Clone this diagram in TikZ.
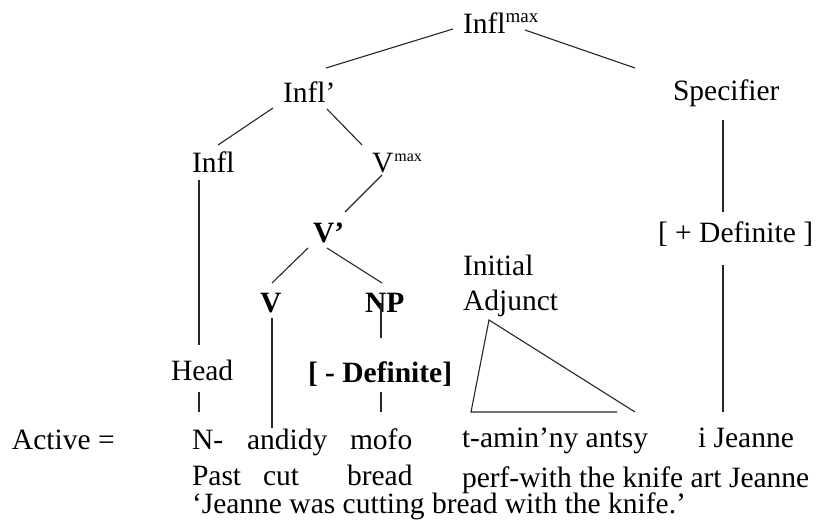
\documentclass[tikz,border=0pt]{standalone}
\usepackage{fontspec}
\setmainfont{Liberation Serif}
\newcommand{\supmax}[1]{\raisebox{11pt}{\fontsize{#1}{#1}\selectfont max}}
\begin{document}
\begin{tikzpicture}[x=1pt,y=-1pt,
  lbl/.style={anchor=base west,inner sep=0pt,outer sep=0pt,font=\fontsize{29.5}{34}\selectfont},
  blbl/.style={lbl,font=\fontsize{29.5}{34}\selectfont\bfseries},
  branch/.style={line width=1.1pt,black!85}]
\useasboundingbox (0,0) rectangle (817,525);
% nodes
\node[lbl] (imax) at (463,33) {Infl\supmax{19}};
\node[lbl] (ibar) at (283,102) {Infl’};
\node[lbl] (spec) at (673,100) {Specifier};
\node[lbl] (infl) at (192,172) {Infl};
\node[lbl] (vmax) at (372,172) {V\kern1pt\supmax{16}};
\node[lbl] (pdef) at (658,242) {[ + Definite ]};
\node[blbl] (vbar) at (313,242) {V’};
\node[blbl] (v) at (260,312) {V};
\node[blbl] (np) at (365,312) {NP};
\node[lbl] (init) at (463,275) {Initial};
\node[lbl] (adj) at (463,310) {Adjunct};
\node[lbl] (head) at (171,380) {Head};
\node[blbl] (mdef) at (308,382) {[ - Definite]};
\node[lbl] (active) at (12,449) {Active =};
\node[lbl] (n) at (192,449) {N-};
\node[lbl] (andidy) at (247,449) {andidy};
\node[lbl] (mofo) at (350,449) {mofo};
\node[lbl] (tamin) at (462,447) {t-amin’ny antsy};
\node[lbl] (ijeanne) at (698,447) {i Jeanne};
\node[lbl] (past) at (192,485) {Past};
\node[lbl] (cut) at (263,485) {cut};
\node[lbl] (bread) at (347,485) {bread};
\node[lbl] (perf) at (462,487) {perf-with the knife art Jeanne};
\node[lbl] (gloss) at (192,513) {‘Jeanne was cutting bread with the knife.’};
% branches
\draw[branch] ([shift={(-10,-4)}]imax.base west) -- ([shift={(43,-34)}]ibar.base west);
\draw[branch] ([shift={(62,-3)}]imax.base west) -- ([shift={(-38,-32)}]spec.base west);
\draw[branch] ([shift={(-10,6)}]ibar.base west) -- ([shift={(26,-27)}]infl.base west);
\draw[branch] ([shift={(44,7)}]ibar.base west) -- ([shift={(-10,-27)}]vmax.base west);
\draw[branch] ([shift={(50,20)}]spec.base west) -- ([shift={(65,-30)}]pdef.base west);
\draw[branch] ([shift={(65,23)}]pdef.base west) -- ([shift={(25,-35)}]ijeanne.base west);
\draw[branch] ([shift={(7,8)}]infl.base west) -- ([shift={(28,-35)}]head.base west);
\draw[branch] ([shift={(28,12)}]head.base west) -- ([shift={(7,-37)}]n.base west);
\draw[branch] ([shift={(10,3)}]vmax.base west) -- ([shift={(32,-30)}]vbar.base west);
\draw[branch] ([shift={(-5,6)}]vbar.base west) -- ([shift={(12,-29)}]v.base west);
\draw[branch] ([shift={(14,6)}]vbar.base west) -- ([shift={(17,-29)}]np.base west);
\draw[branch] ([shift={(12,6)}]v.base west) -- ([shift={(25,-21)}]andidy.base west);
\draw[branch] ([shift={(16,-9)}]np.base west) -- ([shift={(73,-44)}]mdef.base west);
\draw[branch] ([shift={(73,10)}]mdef.base west) -- ([shift={(31,-37)}]mofo.base west);
% triangle
\draw[branch] ([shift={(155,-35)}]tamin.base west) -- ([shift={(9,-35)}]tamin.base west) -- ([shift={(26,10)}]adj.base west) -- ([shift={(173,-35)}]tamin.base west);
\end{tikzpicture}
\end{document}
